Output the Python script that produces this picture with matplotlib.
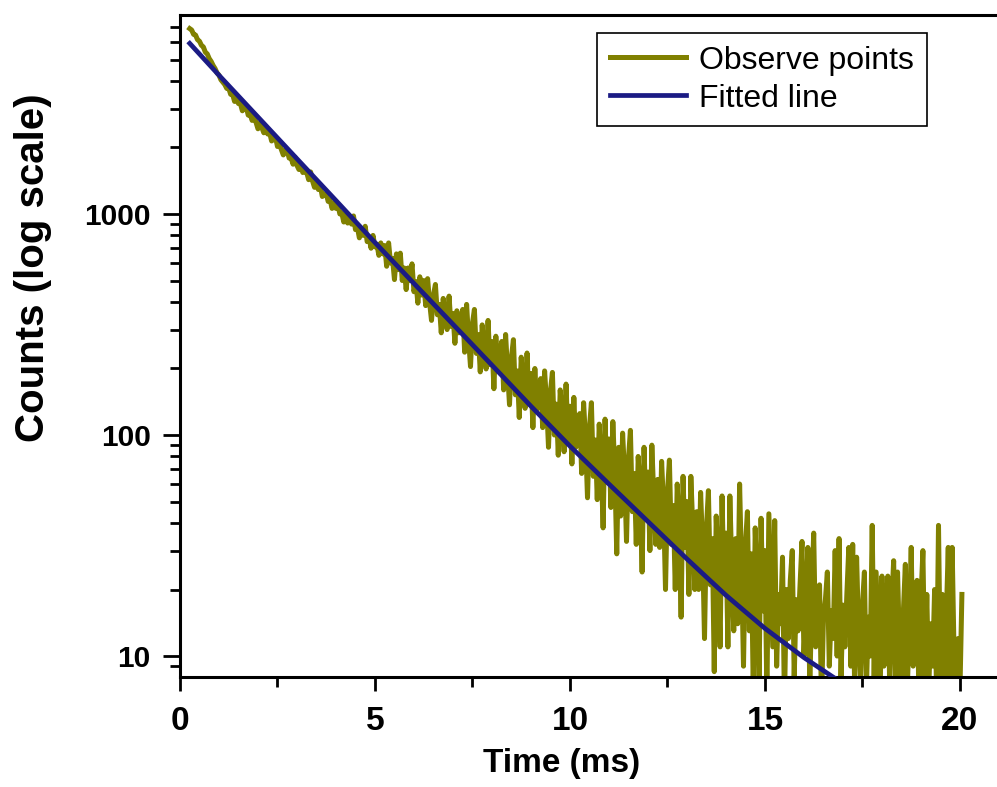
import numpy as np
import matplotlib
matplotlib.use("Agg")
import matplotlib.pyplot as plt
from matplotlib.ticker import FixedLocator, NullFormatter

plt.rcParams["font.family"] = ["Liberation Sans", "DejaVu Sans"]

# observed counts, one value every 0.05 ms starting at 0.25 ms (one row = 1 ms)
t_start = 0.25
t_step = 0.05
obs_counts = [
    6900, 6800, 6500, 6450, 6150, 6050, 5800, 5700, 5400, 5300, 5050, 4900, 4700, 4550, 4350, 4250, 4050, 3950, 3850, 3700,
    3710, 3480, 3480, 3230, 3370, 3160, 3160, 2930, 3060, 3050, 2800, 2830, 2650, 2770, 2600, 2430, 2570, 2460, 2330, 2460,
    2300, 2330, 2140, 2180, 2230, 2020, 2070, 1960, 1850, 1940, 1930, 1790, 1790, 1680, 1810, 1660, 1590, 1640, 1540, 1560,
    1540, 1430, 1550, 1410, 1320, 1370, 1290, 1340, 1200, 1230, 1240, 1140, 1160, 1060, 1120, 1060, 1100, 1000, 1010, 920,
    990, 910, 960, 900, 980, 850, 870, 780, 860, 800, 880, 750, 780, 700, 800, 710, 730, 650, 740, 660,
    720, 580, 740, 600, 630, 505, 660, 560, 665, 500, 570, 455, 570, 500, 595, 445, 495, 395, 520, 430,
    500, 385, 510, 400, 330, 430, 480, 350, 390, 290, 415, 345, 300, 425, 310, 355, 260, 365, 290, 315,
    370, 237, 390, 273, 204, 320, 370, 234, 285, 193, 315, 237, 199, 330, 208, 265, 162, 280, 194, 230,
    265, 160, 285, 195, 137, 225, 270, 152, 195, 120, 225, 170, 132, 235, 138, 190, 108, 200, 130, 165,
    180, 108, 195, 140, 88, 158, 192, 100, 138, 81, 160, 122, 84, 170, 93, 135, 74, 148, 88, 112,
    125, 67, 140, 95, 52, 108, 140, 65, 95, 51, 112, 76, 38, 118, 61, 96, 47, 115, 68, 29,
    88, 43, 102, 67, 33, 78, 105, 45, 67, 32, 80, 55, 24, 88, 43, 68, 30, 90, 52, 32,
    63, 31, 76, 48, 20, 55, 77, 32, 48, 20, 60, 39, 15, 65, 31, 50, 19, 65, 38, 20,
    45, 20, 55, 32, 12, 38, 56, 21, 34, 8.5, 43, 25, 11, 53, 20, 36, 11, 53, 25, 13,
    34, 14, 60, 25, 9, 32, 45, 13, 29, 7, 38, 20, 8, 42, 16, 30, 6.5, 44, 22, 11,
    41, 9, 19, 14, 28, 6, 20, 12, 22, 30, 8, 18, 13, 21, 33, 10, 17, 31, 7, 19,
    36, 11, 16, 21, 6, 15, 18, 24, 9, 16, 12, 30, 10, 34, 8, 17, 11, 19, 31, 9,
    32, 7, 28, 13, 8, 17, 24, 7, 15, 10, 39, 8, 24, 12, 6, 23, 9, 15, 23, 7,
    17, 27, 8, 24, 11, 6, 16, 26, 7, 14, 31, 9, 13, 22, 6, 18, 30, 8, 19, 7,
    14, 9, 20, 7, 39, 8, 19, 6, 15, 31, 7, 31, 10, 5, 12, 7, 19,
]
obs_time = t_start + t_step * np.arange(len(obs_counts))

# fitted decay curve
fit_time = [0.25, 1, 2, 3, 4, 5, 6, 7, 8, 9, 10, 11, 12, 13, 13.5, 14, 14.5, 15, 15.5,
            16, 16.5, 17]
fit_counts = [5916, 4246, 2748, 1778, 1151, 743, 485, 317, 207, 135, 89.1, 60.0, 40.6,
              27.5, 22.75, 18.84, 15.85, 13.34, 11.46, 9.84, 8.59, 7.50]

x_ticks = [0, 5, 10, 15, 20]
x_ticklabels = ["0", "5", "10", "15", "20"]
y_ticks = [10, 100, 1000]
y_ticklabels = ["10", "100", "1000"]

fig = plt.figure(figsize=(9.97, 7.87), dpi=100)
ax = fig.add_axes([0.1805, 0.1398, 0.8195, 0.8412])

ax.plot(obs_time, obs_counts, color="#808000", lw=3.6, label="Observe points", zorder=2)
ax.plot(fit_time, fit_counts, color="#1b1b84", lw=3.4, label="Fitted line", zorder=3)

ax.set_yscale("log")
ax.set_xlim(0, 20.95)
ax.set_ylim(8.04, 7954)

ax.set_xticks(x_ticks)
ax.set_xticklabels(x_ticklabels)
ax.xaxis.set_minor_locator(FixedLocator([2.5, 7.5, 12.5, 17.5]))
ax.set_yticks(y_ticks)
ax.set_yticklabels(y_ticklabels)
ax.yaxis.set_minor_locator(FixedLocator([k * 10 ** e for e in range(0, 4) for k in range(2, 10)]))
ax.yaxis.set_minor_formatter(NullFormatter())

ax.tick_params(axis="x", which="major", direction="out", length=10, width=2, pad=11,
               labelsize=24)
ax.tick_params(axis="x", which="minor", direction="out", length=7, width=2)
ax.tick_params(axis="y", which="major", direction="out", length=12, width=2, pad=9,
               labelsize=21.5)
ax.tick_params(axis="y", which="minor", direction="out", length=7, width=2)
for lab in ax.get_xticklabels() + ax.get_yticklabels():
    lab.set_fontweight("bold")

for side in ["left", "bottom", "top"]:
    ax.spines[side].set_linewidth(2.2)
ax.spines["right"].set_visible(False)

ax.set_xlabel("Time (ms)", fontsize=24, fontweight="bold")
ax.set_ylabel("Counts (log scale)", fontsize=29, fontweight="bold")
ax.xaxis.set_label_coords(0.4676, -0.107)
ax.yaxis.set_label_coords(-0.157, 0.618)

leg = ax.legend(loc="upper right", bbox_to_anchor=(0.914, 0.973), borderaxespad=0,
                fontsize=23, frameon=True, fancybox=False, framealpha=1,
                handlelength=2.4, handletextpad=0.4, labelspacing=0.25,
                borderpad=0.4)
leg.get_frame().set_edgecolor("black")
leg.get_frame().set_linewidth(1.2)

fig.savefig("out.png", dpi=100)
